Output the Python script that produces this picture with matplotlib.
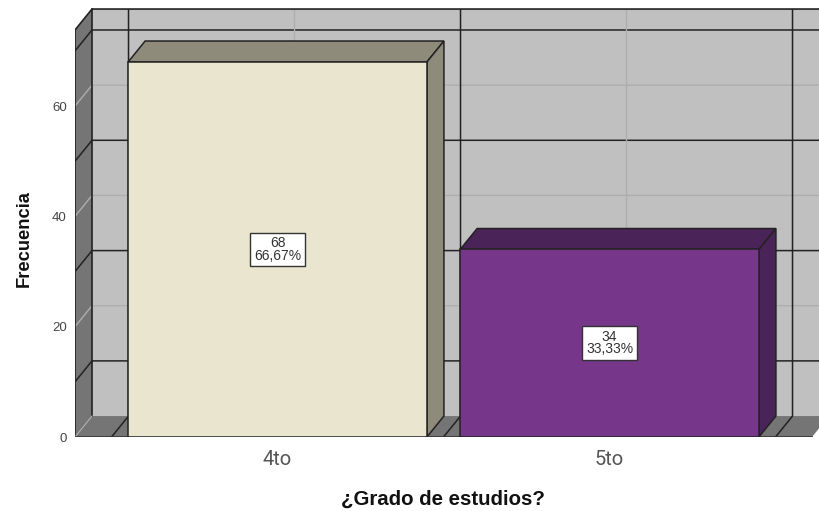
import matplotlib
matplotlib.use('Agg')
import matplotlib.pyplot as plt

categorias = ['4to', '5to']
frecuencias = [68, 34]
porcentajes = ['66,67%', '33,33%']
ticks_y = [0, 20, 40, 60]
rejilla_fuerte = [10, 30, 50, 70]
rejilla_suave = [20, 40, 60]
verticales_fuertes = [-0.5, 0.5, 1.5]
verticales_suaves = [0, 1]

colores = ['#EAE5CF', '#76368A']
colores_lado = ['#8E8B7A', '#4A2358']

# fake 3D depth, in data units
dx = 0.0512
dy = 3.8
ancho = 0.9
y_max = 73.8
x_izq = -0.61
x_der = 1.61

W, H = 819, 511
fig = plt.figure(figsize=(W / 100, H / 100), dpi=100)
plt.rcParams['font.family'] = 'Liberation Sans'
ax = fig.add_axes([75 / W, (H - 437) / H, (W - 75) / W, 437 / H])
ax.set_xlim(x_izq, x_izq + (W - 75) / 332)
ax.set_ylim(0, 437 / 5.515)
for s in ax.spines.values():
    s.set_visible(False)

negro = '#222222'
gris = '#aeaeae'

# back wall, left wall and floor
tope = y_max + dy
ax.fill([x_izq + dx, x_der + dx, x_der + dx, x_izq + dx], [dy, dy, tope, tope], color='#c0c0c0', lw=0, zorder=1)
ax.fill([x_izq, x_izq + dx, x_izq + dx, x_izq], [0, dy, tope, y_max], color='#757575', lw=0, zorder=1)
ax.fill([x_izq, x_der, x_der + dx, x_izq + dx], [0, 0, dy, dy], color='#757575', lw=0, zorder=1)

# grid, wrapping from the left wall onto the back wall
for v, c, lw in [(v, gris, 1.0) for v in rejilla_suave] + [(v, negro, 1.1) for v in rejilla_fuerte]:
    ax.plot([x_izq, x_izq + dx, x_der + dx], [v, v + dy, v + dy], color=c, lw=lw, zorder=2, solid_capstyle='butt')
for x, c, lw in [(x, gris, 1.0) for x in verticales_suaves] + [(x, negro, 1.1) for x in verticales_fuertes]:
    ax.plot([x, x + dx, x + dx], [0, dy, tope], color=c, lw=lw, zorder=2, solid_capstyle='butt')

# frame of the walls
ax.plot([x_izq, x_izq, x_izq + dx, x_der + dx], [0, y_max, tope, tope], color=negro, lw=1.2, zorder=3)
ax.plot([x_izq + dx, x_izq + dx], [dy, tope], color=negro, lw=1.2, zorder=3)
ax.plot([x_izq, x_izq + dx], [0, dy], color=gris, lw=0.8, zorder=3)
ax.plot([x_izq, x_der], [0, 0], color='#333333', lw=1.2, zorder=3)

# bars with their top and side faces
posiciones = range(len(categorias))
ax.bar(posiciones, frecuencias, width=ancho, color=colores, edgecolor=negro, linewidth=1.1, zorder=5)
for x, v, lado in zip(posiciones, frecuencias, colores_lado):
    i = x - ancho / 2
    d = x + ancho / 2
    ax.fill([i, d, d + dx, i + dx], [v, v, v + dy, v + dy], facecolor=lado, edgecolor=negro, lw=1.1, zorder=4)
    ax.fill([d, d + dx, d + dx, d], [0, dy, v + dy, v], facecolor=lado, edgecolor=negro, lw=1.1, zorder=4)

# value boxes
for x, v, p in zip(posiciones, frecuencias, porcentajes):
    ax.text(x, v / 2, f'{v}\n{p}', ha='center', va='center', fontsize=10, color='#333333',
            linespacing=0.85, zorder=6,
            bbox=dict(boxstyle='square,pad=0.27', facecolor='white', edgecolor='#333333', linewidth=1))

ax.set_yticks(ticks_y)
ax.set_yticklabels(ticks_y, fontsize=9.5, color='#444444')
ax.set_xticks(list(posiciones))
ax.set_xticklabels(categorias, fontsize=14.5, color='#555555', family='Roboto')
ax.tick_params(axis='y', length=0, pad=6)
ax.tick_params(axis='x', length=0, pad=9)

fig.text(24 / W, 1 - 239 / H, 'Frecuencia', rotation=90, ha='center', va='center',
         fontsize=13.2, fontweight='bold', color='#111111')
fig.text(443 / W, 1 - 499 / H, '¿Grado de estudios?', ha='center', va='center',
         fontsize=14.7, fontweight='bold', color='#111111')

fig.savefig('out.png', dpi=100, facecolor='white')
